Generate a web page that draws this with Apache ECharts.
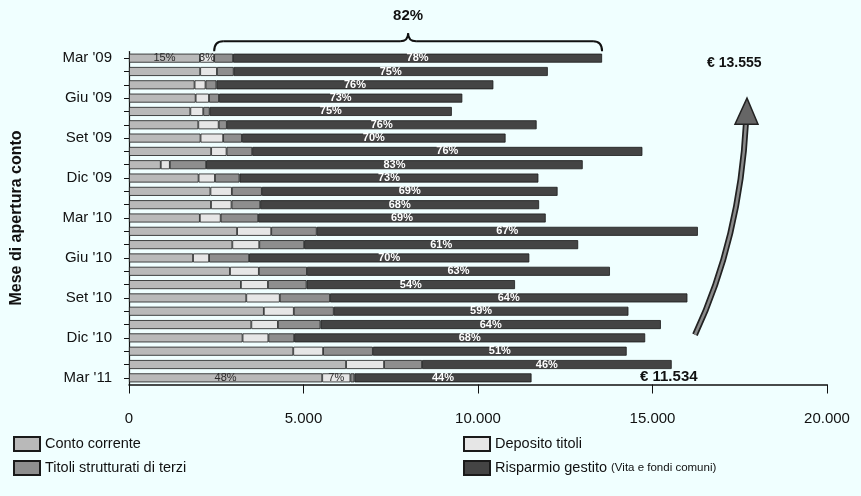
<!DOCTYPE html>
<html>
<head>
<meta charset="utf-8">
<script src="https://cdn.jsdelivr.net/npm/echarts@6/dist/echarts.min.js"></script>
<style>
  html, body { margin: 0; padding: 0; background: #f0ffff; }
  #chart { width: 861px; height: 496px; }
</style>
</head>
<body>
<div id="chart"></div>
<script>
// Month of account opening (top to bottom)
const months = ["Mar '09", "Apr '09", "Mag '09", "Giu '09", "Lug '09", "Ago '09", "Set '09", "Ott '09",
  "Nov '09", "Dic '09", "Gen '10", "Feb '10", "Mar '10", "Apr '10", "Mag '10", "Giu '10", "Lug '10",
  "Ago '10", "Set '10", "Ott '10", "Nov '10", "Dic '10", "Gen '11", "Feb '11", "Mar '11"];

// Average total per account (euro)
const totals = [13555, 12000, 10440, 9550, 9250, 11680, 10790, 14710, 13000, 11730, 12280, 11750,
  11940, 16300, 12870, 11470, 13780, 11060, 16000, 14310, 15240, 14790, 14260, 15550, 11534];

// Share of each component (%)
const pctConto = [15, 17, 18, 20, 19, 17, 19, 16, 7, 17, 19, 20, 17, 19, 23, 16, 21, 29, 21, 27, 23, 22, 33, 40, 48];
const pctDeposito = [3, 4, 3, 4, 4, 5, 6, 3, 2, 4, 5, 5, 5, 6, 6, 4, 6, 7, 6, 6, 5, 5, 6, 7, 7];
const pctStrutturati = [4, 4, 3, 3, 2, 2, 5, 5, 8, 6, 7, 7, 9, 8, 10, 10, 10, 10, 9, 8, 8, 5, 10, 7, 1];
const pctGestito = [78, 75, 76, 73, 75, 76, 70, 76, 83, 73, 69, 68, 69, 67, 61, 70, 63, 54, 64, 59, 64, 68, 51, 46, 44];

// Axis ticks
const xMax = 20000;
const xStep = 5000;

// Rows whose smaller components carry a percentage label
const fullyLabelledRows = [0, months.length - 1];

const fmtThousands = n => String(n).replace(/\B(?=(\d{3})+(?!\d))/g, '.');
const FONT = "'Liberation Sans Narrow', 'Liberation Sans', Arial, sans-serif";
const BOLD = "'Liberation Sans', Arial, sans-serif";

function seriesData(pcts, labelled) {
  return pcts.map((p, i) => {
    const item = { value: totals[i] * p / 100 };
    if (labelled && fullyLabelledRows.includes(i)) item.label = { show: true };
    return item;
  });
}

const border = { borderColor: '#1a1a1a', borderWidth: 0.8 };
const pctLabel = arr => ({
  show: false, position: 'inside', fontFamily: BOLD, fontSize: 11, color: '#2a2a2a',
  formatter: p => arr[p.dataIndex] + '%'
});

const chart = echarts.init(document.getElementById('chart'), null, { renderer: 'canvas' });

const legendBase = {
  orient: 'vertical', top: 431, itemGap: 8, itemWidth: 26, itemHeight: 14,
  selectedMode: false, icon: 'rect'
};

const option = {
  backgroundColor: '#f0ffff',
  animation: false,
  grid: { left: 129, right: 34, top: 51.5, bottom: 111.5, containLabel: false },
  xAxis: {
    type: 'value', min: 0, max: xMax, interval: xStep,
    axisLine: { show: true, lineStyle: { color: '#111', width: 1.5 } },
    axisTick: { show: true, length: 9, lineStyle: { color: '#111' } },
    splitLine: { show: false },
    axisLabel: { margin: 27, fontFamily: FONT, fontSize: 15, color: '#111', formatter: v => fmtThousands(v) }
  },
  yAxis: {
    type: 'category', data: months, inverse: true,
    name: 'Mese di apertura conto', nameLocation: 'middle', nameRotate: 90, nameGap: 104,
    nameTextStyle: { fontFamily: BOLD, fontWeight: 'bold', fontSize: 16, color: '#111' },
    axisLine: { show: true, lineStyle: { color: '#111', width: 1.2 } },
    axisTick: { show: true, length: 5, alignWithLabel: true, interval: 0, lineStyle: { color: '#111' } },
    axisLabel: { interval: 2, margin: 17, fontFamily: FONT, fontSize: 15, color: '#111' }
  },
  legend: [
    Object.assign({}, legendBase, {
      data: ['Conto corrente', 'Titoli strutturati di terzi'], left: 8,
      textStyle: { fontFamily: FONT, fontSize: 14.5, color: '#111' }
    }),
    Object.assign({}, legendBase, {
      data: ['Deposito titoli', 'Risparmio gestito'], left: 458,
      formatter: name => name === 'Risparmio gestito' ? '{a|Risparmio gestito} {b|(Vita e fondi comuni)}' : name,
      textStyle: {
        fontFamily: FONT, fontSize: 14.5, color: '#111',
        rich: { a: { fontFamily: FONT, fontSize: 14.5, color: '#111' }, b: { fontFamily: FONT, fontSize: 11.5, color: '#111' } }
      }
    })
  ],
  series: [
    {
      name: 'Conto corrente', type: 'bar', stack: 'tot', barWidth: 9,
      itemStyle: Object.assign({ color: '#b9b9b9' }, border),
      label: pctLabel(pctConto), data: seriesData(pctConto, true)
    },
    {
      name: 'Deposito titoli', type: 'bar', stack: 'tot', barWidth: 9,
      itemStyle: Object.assign({ color: '#e6e6e6' }, border),
      label: pctLabel(pctDeposito), data: seriesData(pctDeposito, true)
    },
    {
      name: 'Titoli strutturati di terzi', type: 'bar', stack: 'tot', barWidth: 9,
      itemStyle: Object.assign({ color: '#8e8e8e' }, border),
      label: pctLabel(pctStrutturati), data: seriesData(pctStrutturati, false)
    },
    {
      name: 'Risparmio gestito', type: 'bar', stack: 'tot', barWidth: 9,
      itemStyle: Object.assign({ color: '#444444' }, border),
      label: {
        show: true, position: 'inside', fontFamily: BOLD,
        fontWeight: 'bold', fontSize: 11, color: '#ffffff',
        formatter: p => pctGestito[p.dataIndex] + '%'
      },
      data: seriesData(pctGestito, false)
    }
  ]
};

chart.setOption(option);

// Annotations placed from the data through the chart's coordinate system
const toPx = (v, i) => chart.convertToPixel({ gridIndex: 0 }, [v, i]);
const first = 0, last = months.length - 1;
const braceFrom = totals[first] * (pctConto[first] + pctDeposito[first]) / 100;
const [bx1, rowY0] = toPx(braceFrom, first);
const [bx2] = toPx(totals[first], first);
const bmid = (bx1 + bx2) / 2;
const yEnd = rowY0 - 7, yLine = rowY0 - 17, yCusp = rowY0 - 25;
const upperShare = pctStrutturati[first] + pctGestito[first];
const [, rowYLast] = toPx(totals[last], last);

const braceStroke = { fill: null, stroke: '#111', lineWidth: 2 };
const curve = (x1, y1, cx, cy, x2, y2, style) =>
  ({ type: 'bezierCurve', shape: { x1, y1, x2, y2, cpx1: cx, cpy1: cy }, style });
const seg = (x1, y1, x2, y2, style) => ({ type: 'line', shape: { x1, y1, x2, y2 }, style });

// Curved arrow from the latest month up to the first month
const ax0 = 695, ay0 = rowYLast - 43, ax1 = 746, ay1 = rowY0 + 64;
const acx = ax1 - 6, acy = (ay0 + ay1) / 2 + 10;

chart.setOption({
  graphic: [
    curve(bx1, yEnd, bx1, yLine, bx1 + 9, yLine, braceStroke),
    seg(bx1 + 9, yLine, bmid - 8, yLine, braceStroke),
    curve(bmid - 8, yLine, bmid, yLine, bmid, yCusp, braceStroke),
    curve(bmid, yCusp, bmid, yLine, bmid + 8, yLine, braceStroke),
    seg(bmid + 8, yLine, bx2 - 9, yLine, braceStroke),
    curve(bx2 - 9, yLine, bx2, yLine, bx2, yEnd, braceStroke),
    {
      type: 'text', x: bmid, y: yCusp - 17,
      style: { text: upperShare + '%', fontFamily: BOLD, fontWeight: 'bold', fontSize: 15, fill: '#111', align: 'center', verticalAlign: 'middle' }
    },
    {
      type: 'text', x: 707, y: rowY0 + 5,
      style: { text: '€ ' + fmtThousands(totals[first]), fontFamily: BOLD, fontWeight: 'bold', fontSize: 14, fill: '#111', align: 'left', verticalAlign: 'middle' }
    },
    {
      type: 'text', x: 640, y: rowYLast - 1,
      style: { text: '€ ' + fmtThousands(totals[last]), fontFamily: BOLD, fontWeight: 'bold', fontSize: 15, fill: '#111', align: 'left', verticalAlign: 'middle' }
    },
    curve(ax0, ay0, acx, acy, ax1, ay1, { fill: null, stroke: '#222', lineWidth: 6 }),
    curve(ax0, ay0, acx, acy, ax1, ay1, { fill: null, stroke: '#8a8a8a', lineWidth: 2.5 }),
    {
      type: 'polygon', shape: { points: [[ax1 + 1, ay1 - 24], [ax1 - 11, ay1 + 2], [ax1 + 12, ay1 + 2]] },
      style: { fill: '#666', stroke: '#222', lineWidth: 1.5 }
    }
  ]
});
</script>
</body>
</html>
